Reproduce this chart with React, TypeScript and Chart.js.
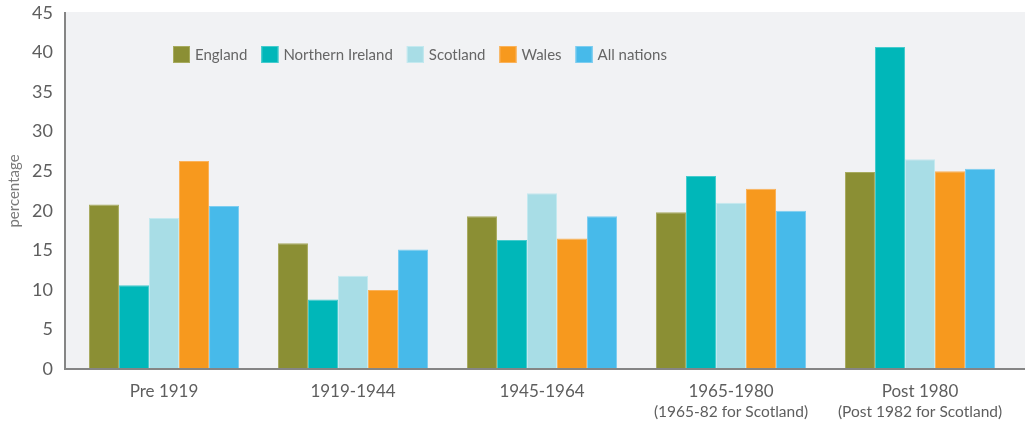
import React, { useEffect, useRef } from "react";
import { Chart, registerables } from "chart.js";

Chart.register(...registerables);

const categories = ["Pre 1919", "1919-1944", "1945-1964", "1965-1980", "Post 1980"];
const subLabels = ["", "", "", "(1965-82 for Scotland)", "(Post 1982 for Scotland)"];
const england = [20.8, 15.9, 19.3, 19.8, 24.9];
const northernIreland = [10.6, 8.8, 16.3, 24.4, 40.7];
const scotland = [19.1, 11.8, 22.2, 21.0, 26.5];
const wales = [26.3, 10.0, 16.5, 22.8, 25.0];
const allNations = [20.6, 15.1, 19.3, 20.0, 25.3];
const yTicks = [0, 5, 10, 15, 20, 25, 30, 35, 40, 45];

const seriesNames = ["England", "Northern Ireland", "Scotland", "Wales", "All nations"];
const seriesColors = ["#8b8f34", "#00b7b9", "#a8dde6", "#f7991e", "#47baea"];
const seriesBorders = ["#a7ab5e", "#45cbcd", "#c4e9ef", "#fab25a", "#7ccdf0"];

const FONT = "Lato, 'Open Sans', sans-serif";

const decorPlugin = {
  id: "decor",
  beforeDraw(chart: any) {
    const { ctx, chartArea } = chart;
    ctx.save();
    ctx.fillStyle = "#f1f2f4";
    ctx.fillRect(65, chartArea.top - 1, chart.width - 65, chartArea.bottom - chartArea.top + 1);
    ctx.restore();
  },
  afterDatasetsDraw(chart: any) {
    const { ctx, chartArea } = chart;
    ctx.save();
    ctx.strokeStyle = "#858585";
    ctx.lineWidth = 2;
    ctx.beginPath();
    ctx.moveTo(65, chartArea.top - 1);
    ctx.lineTo(65, chartArea.bottom + 1);
    ctx.moveTo(64, chartArea.bottom);
    ctx.lineTo(chart.width, chartArea.bottom);
    ctx.stroke();
    ctx.restore();
  },
  afterDraw(chart: any) {
    const { ctx } = chart;
    const xScale = chart.scales.x;
    ctx.save();
    // sub labels
    ctx.font = `15.5px ${FONT}`;
    ctx.fillStyle = "#5e5e5e";
    ctx.textAlign = "center";
    ctx.textBaseline = "middle";
    subLabels.forEach((s, i) => {
      if (s) ctx.fillText(s, xScale.getPixelForValue(i), 412);
    });
    // legend
    ctx.font = `15px ${FONT}`;
    ctx.textAlign = "left";
    let x = 173;
    const boxTop = 46;
    const box = 17;
    chart.data.datasets.forEach((ds: any) => {
      ctx.fillStyle = ds.backgroundColor;
      ctx.fillRect(x, boxTop, box, box);
      ctx.strokeStyle = ds.borderColor;
      ctx.lineWidth = 1;
      ctx.strokeRect(x + 0.5, boxTop + 0.5, box - 1, box - 1);
      ctx.fillStyle = "#666666";
      ctx.fillText(ds.label, x + box + 5, boxTop + box / 2 + 0.5);
      x += box + 5 + ctx.measureText(ds.label).width + 14;
    });
    ctx.restore();
  },
};

export default function App() {
  const ref = useRef<HTMLCanvasElement>(null);
  useEffect(() => {
    if (!ref.current) return;
    const data = [england, northernIreland, scotland, wales, allNations];
    const chart = new Chart(ref.current, {
      type: "bar",
      data: {
        labels: categories,
        datasets: data.map((d, i) => ({
          label: seriesNames[i],
          data: d,
          backgroundColor: seriesColors[i],
          borderColor: seriesBorders[i],
          borderWidth: 1,
          categoryPercentage: 0.794,
          barPercentage: 1,
        })),
      },
      options: {
        animation: false,
        responsive: false,
        devicePixelRatio: 1,
        layout: { padding: { top: 13, right: 10.5, left: 0, bottom: 0 } },
        plugins: { legend: { display: false }, tooltip: { enabled: false } },
        scales: {
          x: {
            grid: { display: false, drawTicks: false, tickLength: 0 },
            border: { display: false },
            ticks: {
              padding: 12,
              color: "#5e5e5e",
              font: { family: FONT, size: 17 },
              maxRotation: 0,
              autoSkip: false,
            },
            afterFit(scale: any) {
              scale.height = 52;
              scale.paddingLeft = 0;
              scale.paddingRight = 0;
            },
          },
          y: {
            min: 0,
            max: 45,
            afterBuildTicks(scale: any) {
              scale.ticks = yTicks.map((v) => ({ value: v }));
            },
            grid: { display: false, drawTicks: false, tickLength: 0 },
            border: { display: false },
            ticks: {
              padding: 16.5,
              color: "#5e5e5e",
              font: { family: FONT, size: 18 },
            },
            title: {
              display: true,
              text: "percentage",
              color: "#7a7a7a",
              font: { family: FONT, size: 15 },
              padding: { top: 5, bottom: 0 },
            },
            afterFit(scale: any) {
              scale.width = 69.5;
              scale.paddingTop = 0;
              scale.paddingBottom = 0;
            },
          },
        },
      },
      plugins: [decorPlugin],
    });
    return () => chart.destroy();
  }, []);
  return (
    <div style={{ position: "absolute", left: 0, top: 0, width: 1025, height: 421, background: "#ffffff" }}>
      <canvas ref={ref} width={1025} height={421} style={{ width: 1025, height: 421, display: "block" }} />
    </div>
  );
}
